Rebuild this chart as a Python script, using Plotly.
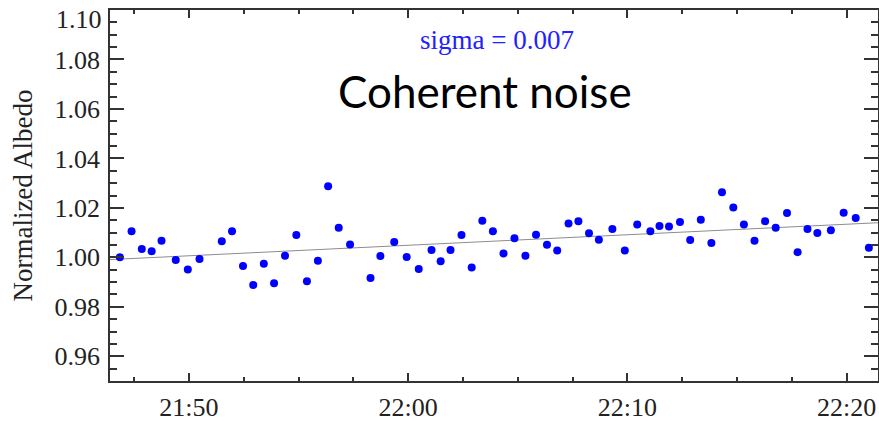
import plotly.graph_objects as go

day = "2000-01-01 "
obs_times = [
    "21:46:51", "21:47:23", "21:47:51", "21:48:18", "21:48:45", "21:49:24", "21:49:57", "21:50:29",
    "21:51:30", "21:51:58", "21:52:28", "21:52:56", "21:53:25", "21:53:53", "21:54:23", "21:54:54",
    "21:55:23", "21:55:53", "21:56:21", "21:56:50", "21:57:21", "21:58:17", "21:58:44", "21:59:22",
    "21:59:56", "22:00:29", "22:01:04", "22:01:29", "22:01:56", "22:02:26", "22:02:54", "22:03:23",
    "22:03:52", "22:04:21", "22:04:51", "22:05:21", "22:05:50", "22:06:20", "22:06:48", "22:07:19",
    "22:07:46", "22:08:15", "22:08:42", "22:09:19", "22:09:53", "22:10:27", "22:11:03", "22:11:28",
    "22:11:54", "22:12:24", "22:12:52", "22:13:21", "22:13:50", "22:14:19", "22:14:50", "22:15:19",
    "22:15:48", "22:16:17", "22:16:46", "22:17:17", "22:17:46", "22:18:13", "22:18:40", "22:19:17",
    "22:19:52", "22:20:25", "22:21:01",
]
albedo = [
    1.0000, 1.0105, 1.0034, 1.0025, 1.0067, 0.9989, 0.9951, 0.9993,
    1.0065, 1.0105, 0.9965, 0.9888, 0.9974, 0.9895, 1.0006, 1.0090,
    0.9903, 0.9986, 1.0287, 1.0120, 1.0052, 0.9916, 1.0005, 1.0062,
    1.0001, 0.9953, 1.0030, 0.9984, 1.0030, 1.0090, 0.9959, 1.0148,
    1.0105, 1.0016, 1.0077, 1.0006, 1.0091, 1.0051, 1.0028, 1.0137,
    1.0146, 1.0097, 1.0071, 1.0115, 1.0028, 1.0133, 1.0105, 1.0127,
    1.0125, 1.0143, 1.0070, 1.0152, 1.0058, 1.0263, 1.0202, 1.0133,
    1.0067, 1.0146, 1.0120, 1.0179, 1.0021, 1.0115, 1.0098, 1.0110,
    1.0180, 1.0159, 1.0039,
]
trend_times = ["21:46:24", "22:21:26"]
trend_values = [0.9991, 1.0140]
x_range = ["21:46:24", "22:21:26"]
y_range = [0.95, 1.10001]
y_tick_values = [0.96, 0.98, 1.00, 1.02, 1.04, 1.06, 1.08, 1.10]
y_tick_labels = ["0.96", "0.98", "1.00", "1.02", "1.04", "1.06", "1.08", "1.10"]
sigma_text = "sigma = 0.007"
title_text = "Coherent noise"
y_title = "Normalized Albedo"

tick_font = dict(family="Liberation Serif", size=26, color="#222222")

fig = go.Figure()
fig.add_trace(go.Scatter(
    x=[day + t for t in trend_times], y=trend_values, mode="lines",
    line=dict(color="#8c8c8c", width=1), hoverinfo="skip", showlegend=False,
))
fig.add_trace(go.Scatter(
    x=[day + t for t in obs_times], y=albedo, mode="markers",
    marker=dict(color="#0000ff", size=8, line=dict(width=0)), showlegend=False,
))

axis_common = dict(
    showline=True, linecolor="#333333", linewidth=1.5, mirror="ticks",
    ticks="inside", tickcolor="#333333", tickwidth=1.5,
    showgrid=False, zeroline=False, automargin=False,
    ticklabeloverflow="allow", tickfont=tick_font,
)

fig.update_xaxes(
    type="date", range=[day + x_range[0], day + x_range[1]],
    tick0=day + "21:50:00", dtick=600000, tickformat="%H:%M", ticklen=8,
    minor=dict(dtick=150000, ticks="inside", ticklen=4, tickcolor="#333333", tickwidth=1.5, showgrid=False),
    ticklabelstandoff=2,
    **axis_common,
)
# the top label sits just below its tick (as in the original), drawn as an annotation on the y scale
fig.update_yaxes(
    range=y_range, tickvals=y_tick_values,
    ticktext=y_tick_labels[:-1] + [""], ticklen=14,
    minor=dict(dtick=0.005, ticks="inside", ticklen=7, tickcolor="#333333", tickwidth=1.5, showgrid=False),
    ticklabelstandoff=3,
    title=dict(text=y_title, font=dict(family="Liberation Serif", size=27, color="#222222"), standoff=14),
    **axis_common,
)
fig.add_annotation(
    x=0, xref="paper", y=y_tick_values[-1], yref="y", text=y_tick_labels[-1],
    showarrow=False, xanchor="right", yanchor="middle", xshift=-6, yshift=-9,
    font=tick_font,
)

fig.add_annotation(
    x=(496.5 - 110) / 768, y=1 - (40 - 10) / 371, xref="paper", yref="paper",
    text=sigma_text, showarrow=False, xanchor="center", yanchor="middle",
    font=dict(family="Liberation Serif", size=27, color="#2222ff"),
)
fig.add_annotation(
    x=(485 - 110) / 768, y=1 - (91 - 10) / 371, xref="paper", yref="paper",
    text=title_text, showarrow=False, xanchor="center", yanchor="middle",
    font=dict(family="Lato", size=44, color="#000000"),
)

fig.update_layout(
    width=879, height=421,
    margin=dict(l=110, r=1, t=10, b=40),
    paper_bgcolor="white", plot_bgcolor="white",
)

fig.write_html(
    "out.html",
    config={"displayModeBar": False},
    post_script="document.body.style.margin='0';document.body.style.padding='0';document.body.style.overflow='hidden';",
)
